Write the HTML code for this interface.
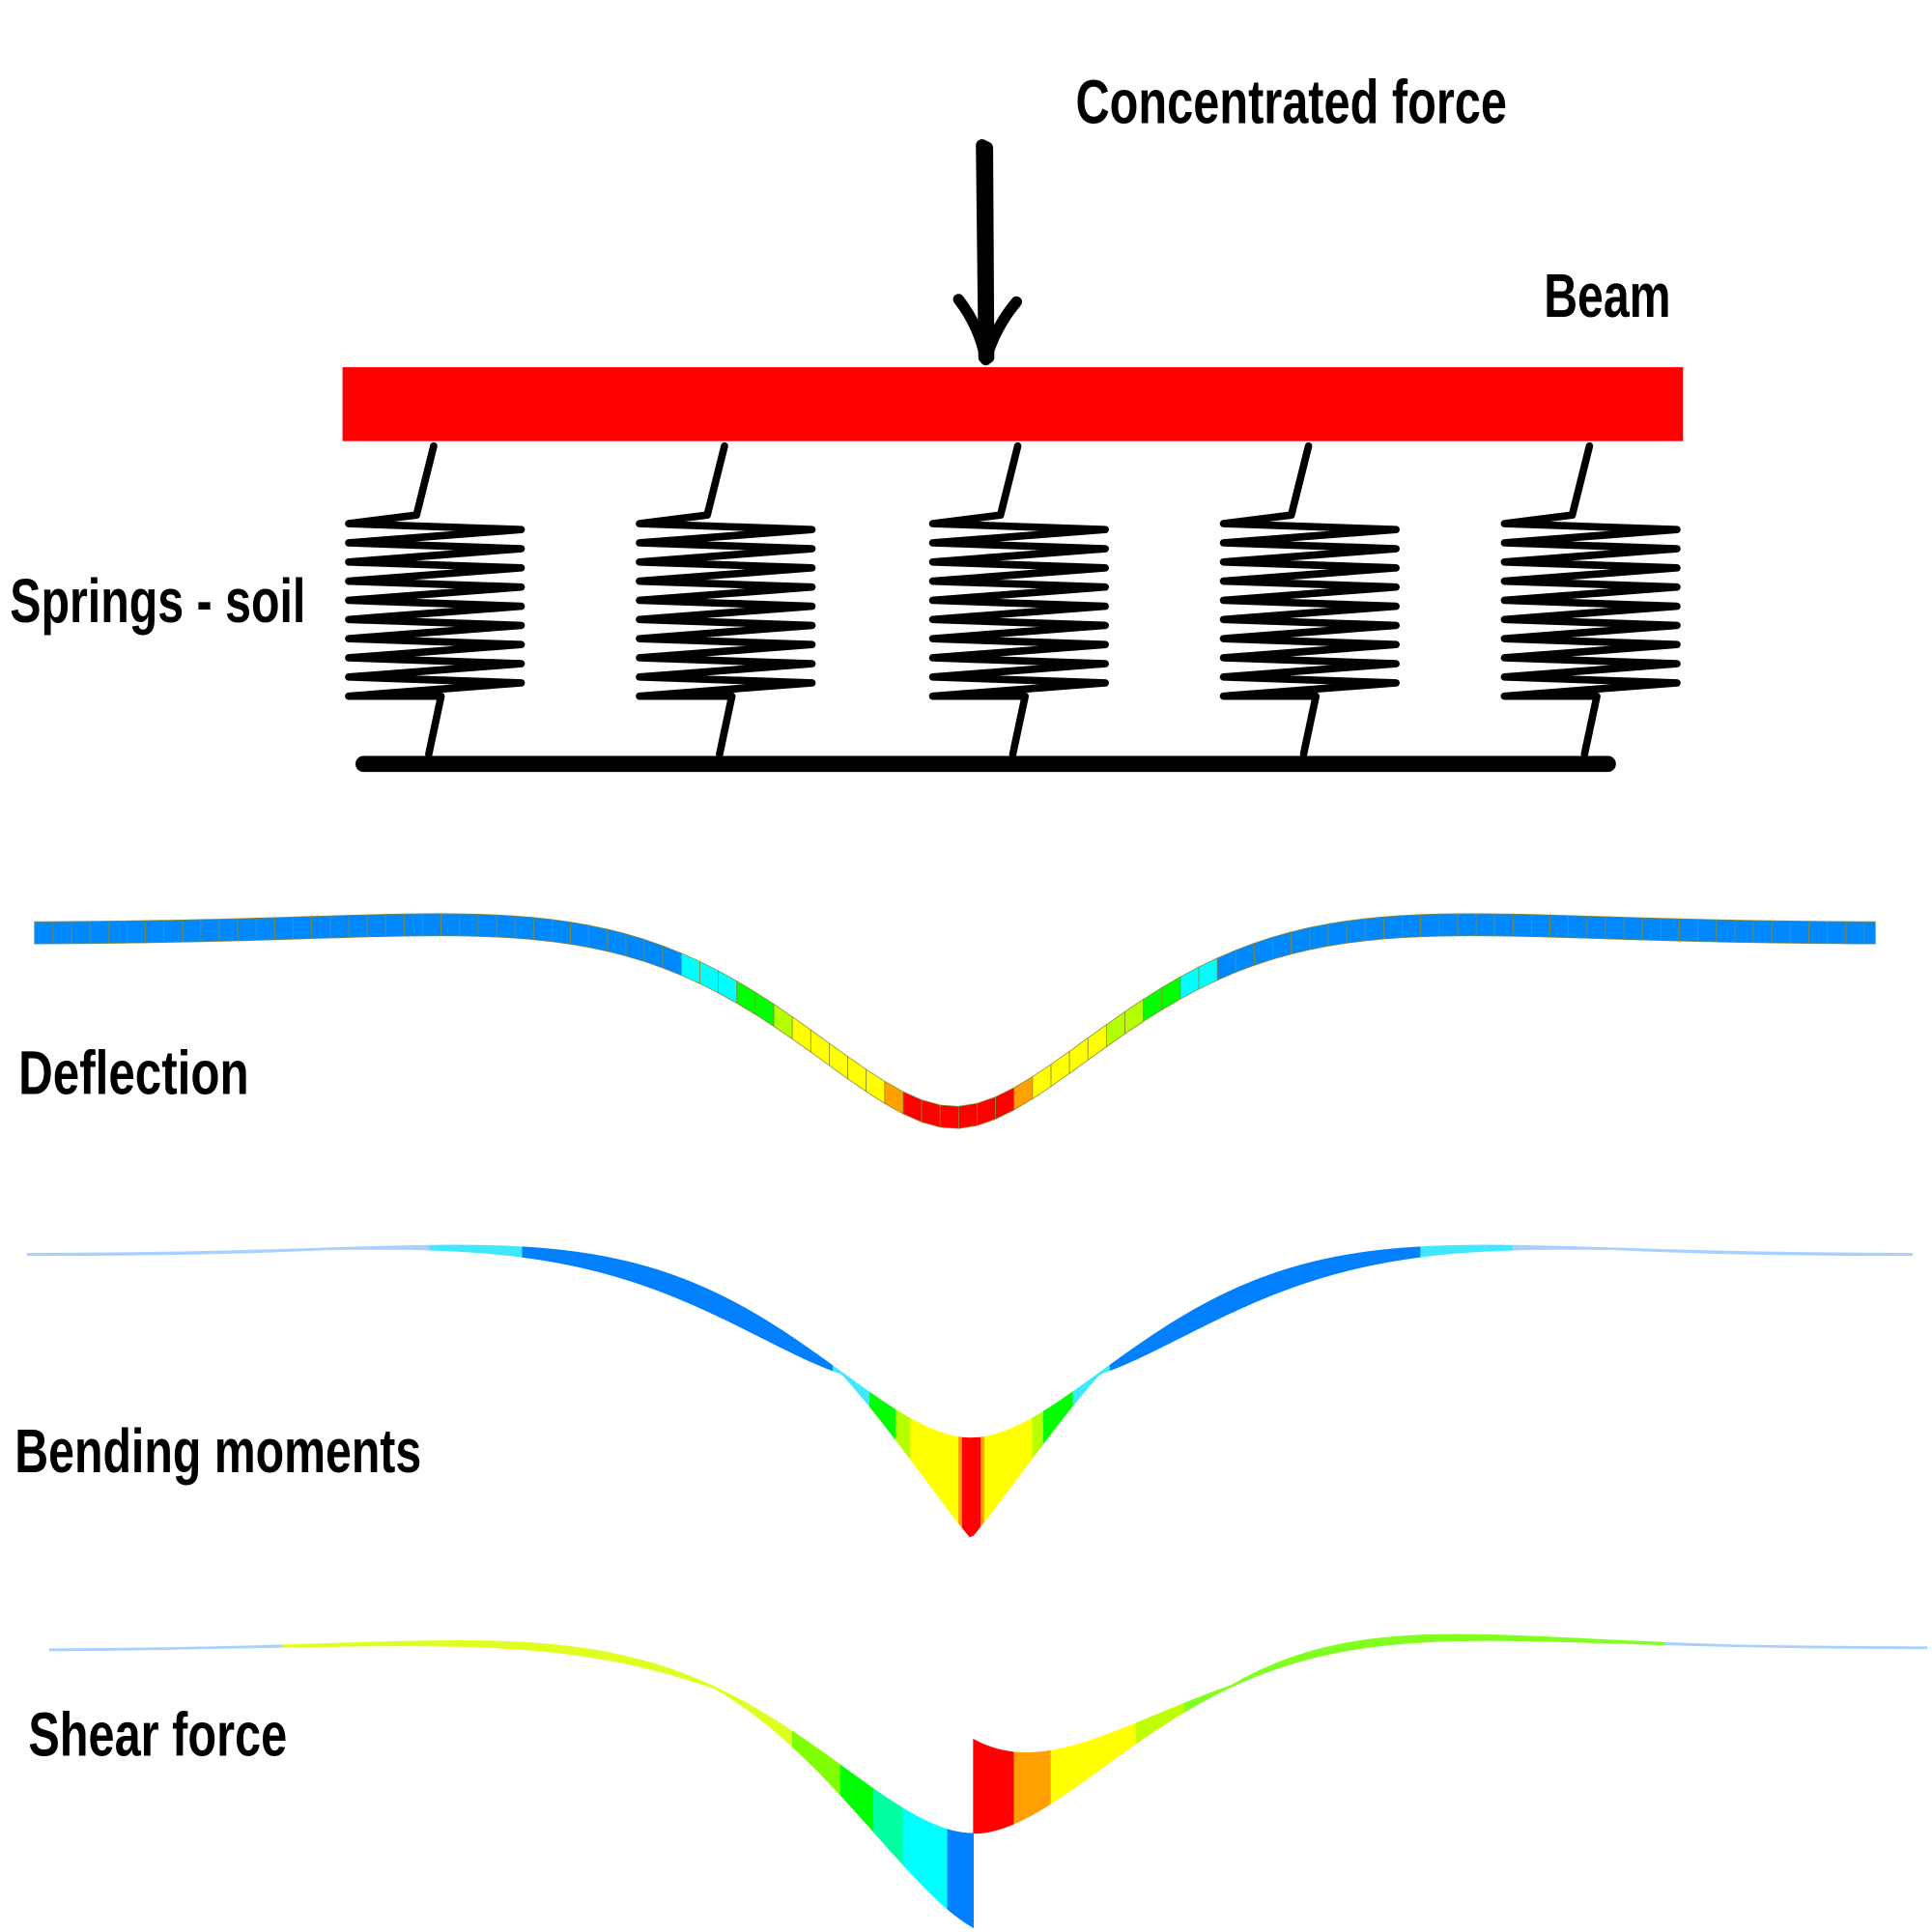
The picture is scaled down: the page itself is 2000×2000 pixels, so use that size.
<!DOCTYPE html>
<html><head><meta charset="utf-8"><style>
html,body{margin:0;padding:0;background:#fff;}
svg{display:block;}
text{font-family:"Liberation Sans Narrow","Liberation Sans",sans-serif;font-weight:bold;font-size:50px;fill:#000;}
</style></head><body>
<svg id="s" width="2000" height="2000" viewBox="0 0 1568 1568" xmlns="http://www.w3.org/2000/svg">
<rect x="0" y="0" width="1568" height="1568" fill="#fff"/>
<text x="873" y="100" textLength="350" lengthAdjust="spacingAndGlyphs">Concentrated force</text>
<text x="1253" y="257" textLength="103" lengthAdjust="spacingAndGlyphs">Beam</text>
<text x="8" y="505" textLength="240" lengthAdjust="spacingAndGlyphs">Springs - soil</text>
<text x="15" y="888" textLength="187" lengthAdjust="spacingAndGlyphs">Deflection</text>
<text x="12" y="1195" textLength="330" lengthAdjust="spacingAndGlyphs">Bending moments</text>
<text x="23" y="1425" textLength="210" lengthAdjust="spacingAndGlyphs">Shear force</text>
<rect x="278" y="298" width="1088" height="60" fill="#ff0000"/>
<g stroke="#000" stroke-linecap="round" stroke-linejoin="round" fill="none">
<path d="M797 118 L801 120 L802 290 L799 290 Z" fill="#000" stroke-width="10"/>
<path d="M778 243 Q795 265 800 292 Q808 265 825 245" stroke-width="9"/>
<line x1="295" y1="620" x2="1305" y2="620" stroke-width="13"/>
<g id="springs" stroke-width="6"></g>
</g>
<g id="plots"></g>
</svg>
<script>
var NS="http://www.w3.org/2000/svg";
function el(p,t,a){var e=document.createElementNS(NS,t);for(var k in a)e.setAttribute(k,a[k]);p.appendChild(e);return e;}
var sp=document.getElementById('springs');
[352,588,826,1062,1290].forEach(function(c){
  var L=c-69,R=c+71,pts=[[c,362],[c-14,418],[L,425]];
  var y=425,n=18,st=140/n;
  for(var i=1;i<=n;i++){y=425+i*st;pts.push([i%2?R:L,y-(i%2?3:0)]);}
  pts.push([c+6,565]);pts.push([c-4,612]);
  el(sp,'polyline',{points:pts.map(function(p){return p.join(',')}).join(' ')});
});
var P=document.getElementById('plots');
var b=0.0075;
function defl(x,c){var u=Math.abs(x-c)*b;return Math.exp(-u)*(Math.cos(u)+Math.sin(u));}
function mom(x,c){var u=Math.abs(x-c)*b;return Math.exp(-u)*(Math.cos(u)-Math.sin(u));}
function shr(x,c){var u=Math.abs(x-c)*b;return Math.exp(-u)*Math.cos(u);}
function jet(t){t=Math.max(0,Math.min(1,t));
  var st=[[0,[0,128,255]],[0.25,[0,255,255]],[0.4,[0,255,128]],[0.5,[0,255,0]],[0.6,[180,255,0]],[0.7,[255,255,0]],[0.85,[255,160,0]],[1,[255,0,0]]];
  for(var i=1;i<st.length;i++){if(t<=st[i][0]){var a=st[i-1],c=st[i],f=(t-a[0])/(c[0]-a[0]);
   return 'rgb('+[0,1,2].map(function(k){return Math.round(a[1][k]+(c[1][k]-a[1][k])*f)}).join(',')+')';}}
  return 'rgb(255,0,0)';}
// deflection
var c1=775;
for(var x=28;x<1522;x+=15){
  var x2=Math.min(x+15,1522);
  var y1=757+150*defl(x,c1),y2=757+150*defl(x2,c1);
  var d=(defl(x,c1)+defl(x2,c1))/2;
  var col=d>0.9?'#ff0000':d>0.85?'#ffa000':d>0.55?'#ffff00':d>0.45?'#b4ff00':d>0.3?'#00ff00':d>0.18?'#00ffff':'#0088ff';
  el(P,'polygon',{points:[x,y1-9,x2,y2-9,x2,y2+9,x,y1+9].join(' '),fill:col,stroke:'#8a8a30','stroke-width':0.6});
}
// bending moment
var c2=788;
for(var x=22;x<1552;x+=3){
  var x2=x+3,xm=x+1.5;
  var t1=1017+150*defl(x,c2),t2=1017+150*defl(x2,c2);
  var b1=t1+80*Math.abs(mom(x,c2))+1.5,b2=t2+80*Math.abs(mom(x2,c2))+1.5;
  var m=mom(xm,c2),dd=Math.abs(xm-c2);
  var col;
  if(dd>440)col='#a8d0ff';else if(dd>365)col='#40e8ff';else if(m<-0.035)col='#0080ff';else if(m<0.12)col='#40e8ff';
  else if(m<0.3)col='#00ff00';else if(m<0.4)col='#b4ff00';else if(m<0.85)col='#ffff00';else if(m<0.9)col='#ffa000';else col='#ff0000';
  el(P,'polygon',{points:[x,t1,x2,t2,x2,b2,x,b1].join(' '),fill:col,stroke:col,'stroke-width':0.5});
}
// shear
var c3=790;
for(var x=40;x<1562;x+=3){
  var x2=x+3,xm=x+1.5;
  var a1=1338+150*defl(x,c3),a2=1338+150*defl(x2,c3);
  var left=xm<c3;
  var s1=a1+(left?1:-1)*(75*Math.abs(shr(x,c3))+1.5),s2=a2+(left?1:-1)*(75*Math.abs(shr(x2,c3))+1.5);
  if(x<c3&&x2>c3){continue;}
  var v=Math.abs(shr(xm,c3)),col;
  if(left){col=v>0.85?'#0080ff':v>0.6?'#00ffff':v>0.45?'#00ffa0':v>0.3?'#00ff00':v>0.15?'#80ff00':'#e0ff20';}
  else{col=v>0.75?'#ff0000':v>0.55?'#ffa000':v>0.2?'#ffff00':v>0.08?'#c0ff00':'#80ff20';}
  if(Math.abs(xm-c3)>560)col='#a8d0ff';
  el(P,'polygon',{points:[x,a1,x2,a2,x2,s2,x,s1].join(' '),fill:col,stroke:col,'stroke-width':0.5});
}
</script>
</body></html>
